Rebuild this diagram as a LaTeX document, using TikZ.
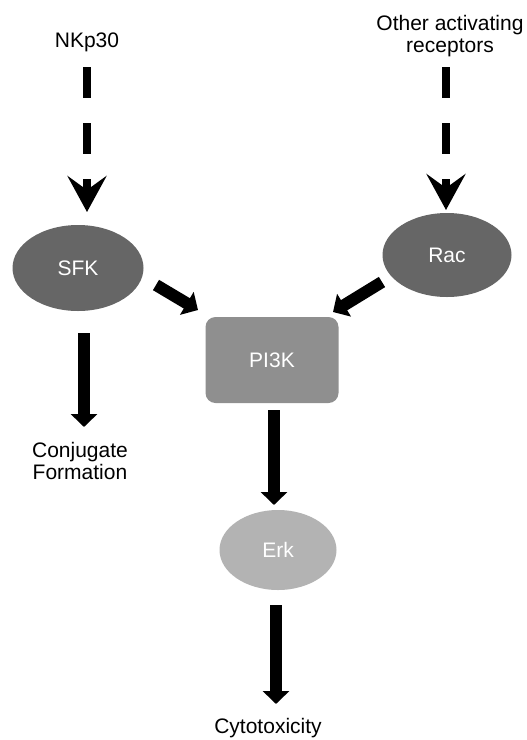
\documentclass[tikz,border=0pt]{standalone}
\usepackage{fontspec}
\setmainfont{Liberation Sans}
\usetikzlibrary{shapes.geometric,arrows.meta,calc}
\definecolor{darkg}{HTML}{666666}
\definecolor{midg}{HTML}{8F8F8F}
\definecolor{lightg}{HTML}{B3B3B3}
\begin{document}
\begin{tikzpicture}[x=1pt,y=-1pt,
  font=\fontsize{21}{22}\selectfont,
  lbl/.style={align=center, inner sep=0pt},
  darknode/.style={ellipse, fill=darkg, text=white, minimum width=131pt, minimum height=86pt, inner sep=0pt},
  pibox/.style={rectangle, rounded corners=10pt, fill=midg, text=white, minimum width=133pt, minimum height=86pt, inner sep=0pt},
  erknode/.style={ellipse, fill=lightg, text=white, minimum width=117pt, minimum height=80pt, inner sep=0pt},
  solidarr/.style={line width=12pt, -{Triangle[length=13pt,width=26pt]}},
  dasharr/.style={line width=8pt, dash pattern=on 31pt off 25pt, -{Stealth[length=36pt 0 0,width=39pt 0 0,inset=14pt 0]}}
]
\useasboundingbox (0,0) rectangle (527,740);

\node[lbl] (nk) at (87,42) {NKp30};
\node[lbl] (oth) at (450,36) {Other activating\\receptors};
\node[darknode] (sfk) at (78,268) {SFK};
\node[darknode, minimum width=129pt, minimum height=84pt] (rac) at (447,255) {Rac};
\node[pibox] (pi) at (272,360) {PI3K};
\node[erknode] (erk) at (278,550) {Erk};
\node[lbl] (conj) at (80,461) {Conjugate\\Formation};
\node[lbl] (cyto) at (268,728) {Cytotoxicity};

\draw[dasharr] ($(nk)+(0,25)$) -- ($(sfk)+(9,-56)$);
\draw[dasharr] ($(oth)+(-4,31)$) -- ($(rac)+(-1,-45)$);
\draw[solidarr] ($(sfk)+(78,17)$) -- ($(pi)+(-74,-50)$);
\draw[solidarr] ($(rac)+(-65,27)$) -- ($(pi)+(61,-48)$);
\draw[solidarr] ($(sfk)+(6,65)$) -- ($(conj)+(4,-34)$);
\draw[solidarr] ($(pi)+(2,50)$) -- ($(erk)+(-4,-45)$);
\draw[solidarr] ($(erk)+(-2,55)$) -- ($(cyto)+(8,-24)$);
\end{tikzpicture}
\end{document}
